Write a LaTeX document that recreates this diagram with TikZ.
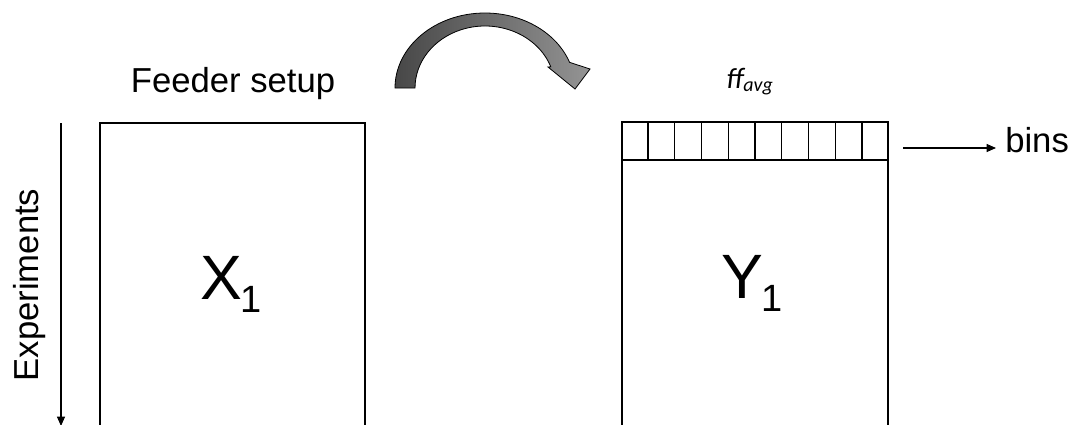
\documentclass[tikz,border=0pt]{standalone}
\usepackage{fontspec}
\setmainfont{Liberation Sans}
\newfontfamily\calfont{Carlito}
\usetikzlibrary{arrows.meta,calc}

\begin{document}
\begin{tikzpicture}[x=0.75pt,y=-0.75pt,
  frame/.style={draw, line width=1pt, inner sep=0pt},
  lbl/.style={inner sep=0pt, font=\fontsize{26}{30}\selectfont},
  big/.style={inner sep=0pt, font=\fontsize{47}{52}\selectfont},
  thin arrow/.style={line width=0.8pt, -{Triangle[length=7pt,width=6pt]}}]
\useasboundingbox (0,0) rectangle (1076,425);
\clip (0,0) rectangle (1076,425);

% matrices (they run past the lower edge)
\node[frame, minimum width=198.75pt, minimum height=235.5pt] (xbox) at (232.5,280) {};
\node[frame, minimum width=199.5pt, minimum height=236.25pt] (ybox) at (755,279.5) {};

% row of bins on top of Y
\node[frame, minimum width=199.5pt, minimum height=28.5pt] (binrow) at (755,141) {};
\foreach \i in {1,...,9}
  \draw[line width=0.9pt] ($(binrow.north west)!\i/10!(binrow.north east)$)
                       -- ($(binrow.south west)!\i/10!(binrow.south east)$);

% labels
\node[lbl, anchor=base] (feeder) at (233,92) {Feeder setup};
\node[big, anchor=base west] (xlab) at (200,299)
  {X\kern-1.2pt\raisebox{-9.75pt}{\fontsize{28.5}{30}\selectfont 1}};
\node[big, anchor=base west] (ylab) at (721,298)
  {Y\kern-1.2pt\raisebox{-9.75pt}{\fontsize{28.5}{30}\selectfont 1}};
\node[inner sep=0pt, anchor=base west] (ffavg) at (726,88)
  {\calfont\itshape\fontsize{22}{24}\selectfont ff\raisebox{-2.5pt}{\fontsize{15}{16}\selectfont avg}};
\node[lbl, anchor=base west] (bins) at (1005,152) {bins};
\node[lbl, rotate=90, anchor=base] (exper) at (38,285) {Experiments};

% axis along the experiments
\coordinate (etop) at (61,123);
\coordinate (ebot) at (61,426);
\draw[thin arrow] (etop) -- (ebot);

% pointer from the bin row to its label
\coordinate (bstart) at (903,148);
\draw[thin arrow] (bstart) -- ($(bstart -| bins.west)+(-9,0)$);

% curved block arrow from X to Y
\draw[line width=0.6pt, left color=black!72, right color=black!42]
  (395,88) arc[start angle=180, end angle=340, x radius=90, y radius=75]
  -- (590,69) -- (575,89) -- (548,67) -- (550.8,66.8)
  arc[start angle=340, end angle=180, x radius=70, y radius=62]
  -- cycle;
\end{tikzpicture}
\end{document}
